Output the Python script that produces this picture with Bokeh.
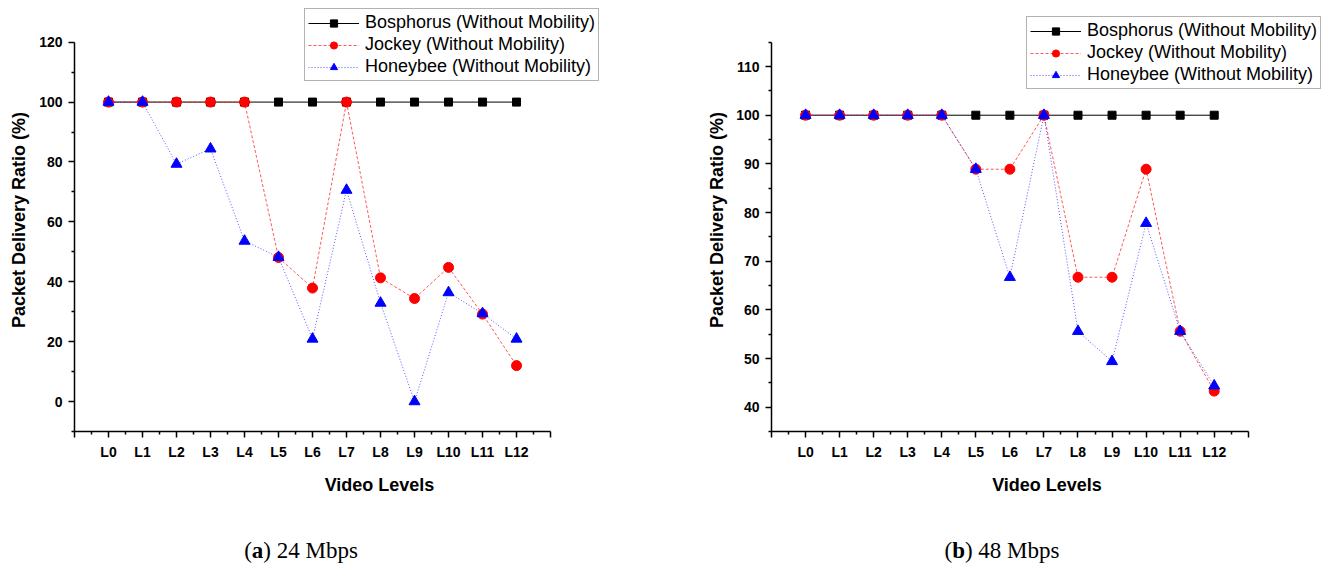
from bokeh.plotting import figure
from bokeh.models import (Range1d, FixedTicker, Legend, LegendItem, Div)
from bokeh.layouts import row, column
from bokeh.embed import file_html
from bokeh.resources import INLINE

# ---------------- data ----------------
levels = ["L0", "L1", "L2", "L3", "L4", "L5", "L6", "L7", "L8", "L9", "L10", "L11", "L12"]

# (a) 24 Mbps
bosphorus_24 = [100, 100, 100, 100, 100, 100, 100, 100, 100, 100, 100, 100, 100]
jockey_24 = [100, 100, 100, 100, 100, 48.1, 37.9, 100, 41.3, 34.4, 44.8, 29.2, 12.0]
honeybee_24 = [100, 100, 79.3, 84.4, 53.6, 48.2, 20.9, 70.6, 32.9, 0.0, 36.4, 29.4, 20.9]

# (b) 48 Mbps
bosphorus_48 = [100, 100, 100, 100, 100, 100, 100, 100, 100, 100, 100, 100, 100]
jockey_48 = [100, 100, 100, 100, 100, 88.9, 88.9, 100, 66.7, 66.7, 88.9, 55.6, 43.3]
honeybee_48 = [100, 100, 100, 100, 100, 88.9, 66.7, 100, 55.6, 49.4, 77.8, 55.6, 44.4]

series_names = ["Bosphorus (Without Mobility)", "Jockey (Without Mobility)",
                "Honeybee (Without Mobility)"]
captions = ["(<b>a</b>) 24 Mbps", "(<b>b</b>) 48 Mbps"]

FONT = "Liberation Sans"


def make_chart(width, border_left, x_end, y_range, y_bounds, y_major, y_minor,
               series, legend_loc, ylabel_standoff):
    p = figure(width=width, height=532, output_backend="svg", toolbar_location=None,
               x_range=Range1d(-1, x_end), y_range=Range1d(*y_range),
               min_border_left=border_left, min_border_right=0,
               min_border_top=0, min_border_bottom=109)
    p.outline_line_color = None
    p.grid.visible = False
    p.background_fill_color = "white"

    xs = list(range(len(levels)))
    bos, joc, hon = series
    r1 = p.line(xs, bos, line_color="black", line_width=1)
    s1 = p.scatter(xs, bos, marker="square", size=8, fill_color="black", line_color="black")
    r2 = p.line(xs, joc, line_color="#ff2020", line_width=1, line_dash="3 2", line_alpha=0.75)
    s2 = p.scatter(xs, joc, marker="circle", size=10, fill_color="#ff0000", line_color="#ff0000")
    r3 = p.line(xs, hon, line_color="#2020ff", line_width=1, line_dash="1 2", line_alpha=0.75)
    s3 = p.scatter(xs, hon, marker="triangle", size=11, fill_color="#0000ff", line_color="#0000ff")

    # x axis
    xa = p.xaxis[0]
    xa.bounds = (-1, len(levels))
    xa.ticker = FixedTicker(ticks=list(range(-1, len(levels) + 1)),
                            minor_ticks=[i + 0.5 for i in range(-1, len(levels))])
    overrides = {i: lbl for i, lbl in enumerate(levels)}
    overrides[-1] = ""
    overrides[len(levels)] = ""
    xa.major_label_overrides = overrides
    xa.axis_label = "Video Levels"
    xa.axis_label_standoff = 12
    xa.major_label_standoff = 6

    # y axis
    ya = p.yaxis[0]
    ya.bounds = y_bounds
    ya.ticker = FixedTicker(ticks=y_major, minor_ticks=y_minor)
    ya.axis_label = "Packet Delivery Ratio (%)"
    ya.axis_label_standoff = ylabel_standoff
    ya.major_label_standoff = 6

    for ax in (xa, ya):
        ax.axis_line_color = "black"
        ax.axis_line_width = 1.5
        ax.major_tick_line_color = "black"
        ax.major_tick_line_width = 1.5
        ax.minor_tick_line_color = "black"
        ax.minor_tick_line_width = 1.5
        ax.major_tick_out = 6
        ax.major_tick_in = 0
        ax.minor_tick_out = 3
        ax.minor_tick_in = 0
        ax.major_label_text_font = FONT
        ax.major_label_text_font_style = "bold"
        ax.major_label_text_font_size = "14px"
        ax.major_label_text_color = "black"
        ax.axis_label_text_font = FONT
        ax.axis_label_text_font_style = "bold"
        ax.axis_label_text_font_size = "18px"
        ax.axis_label_text_color = "black"

    legend = Legend(items=[
        LegendItem(label=series_names[0], renderers=[r1, s1]),
        LegendItem(label=series_names[1], renderers=[r2, s2]),
        LegendItem(label=series_names[2], renderers=[r3, s3]),
    ], location=legend_loc)
    legend.label_text_font = FONT
    legend.label_text_font_size = "18px"
    legend.label_text_color = "black"
    legend.label_standoff = 6
    legend.glyph_width = 51
    legend.glyph_height = 18
    legend.label_height = 18
    legend.spacing = 1
    legend.padding = 3
    legend.margin = 0
    legend.border_line_color = "#666666"
    legend.border_line_width = 1
    legend.background_fill_color = "white"
    legend.background_fill_alpha = 1.0
    p.add_layout(legend)
    return p


p1 = make_chart(width=682, border_left=72, x_end=16.94, y_range=(-10, 131.25),
                y_bounds=(-10, 120), y_major=list(range(0, 121, 20)),
                y_minor=list(range(-10, 120, 20)),
                series=(bosphorus_24, jockey_24, honeybee_24),
                legend_loc=(230, 350), ylabel_standoff=7)

p2 = make_chart(width=638, border_left=87, x_end=15.18, y_range=(35, 121.93),
                y_bounds=(35, 115), y_major=list(range(40, 111, 10)),
                y_minor=[35 + 10 * i for i in range(9)],
                series=(bosphorus_48, jockey_48, honeybee_48),
                legend_loc=(255, 342), ylabel_standoff=6)

cap_style = {"text-align": "center", "font-family": "Liberation Serif",
             "font-size": "23px", "line-height": "12px", "color": "black"}
d1 = Div(text=captions[0], width=588, height=20, styles=cap_style)
d2 = Div(text=captions[1], width=626, height=20, styles=cap_style)

layout = row(column(p1, d1), column(p2, d2))
layout.margin = (8, 8, 8, 2)

open("out.html", "w").write(file_html(layout, INLINE))
